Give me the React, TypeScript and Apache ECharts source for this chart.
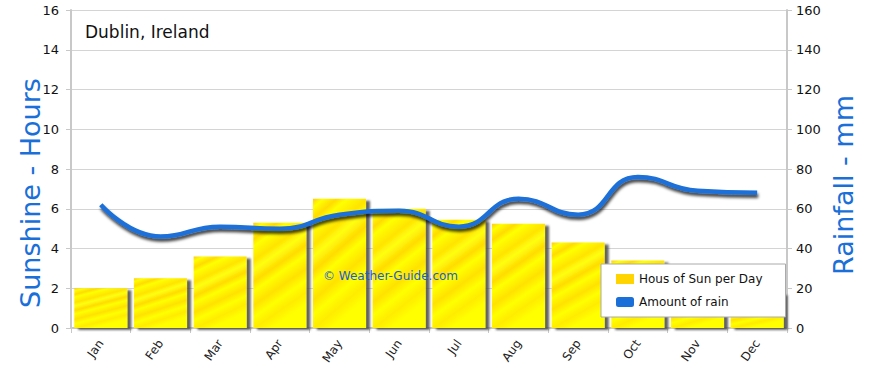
import React, { useEffect, useRef } from "react";
import * as echarts from "echarts";

const months = ["Jan", "Feb", "Mar", "Apr", "May", "Jun", "Jul", "Aug", "Sep", "Oct", "Nov", "Dec"];
const sunHours = [2.0, 2.5, 3.6, 5.3, 6.5, 6.0, 5.45, 5.25, 4.3, 3.4, 2.3, 1.75];
const rainMm = [62, 46, 51, 50, 57, 59, 51, 65, 57, 76, 69, 68];
const sunTicks = { min: 0, max: 16, interval: 2 };
const rainTicks = { min: 0, max: 160, interval: 20 };

const FONT = "'DejaVu Sans', sans-serif";
const BLUE = "#1a6fd8";

export default function App() {
  const ref = useRef<HTMLDivElement>(null);
  useEffect(() => {
    if (!ref.current) return;
    const chart = echarts.init(ref.current, undefined, { renderer: "svg" });
    const barFill = new echarts.graphic.LinearGradient(0, 0, 0.35, 1, [
      { offset: 0, color: "#ffc81a" },
      { offset: 0.06, color: "#ffff00" },
      { offset: 0.14, color: "#ffdc00" },
      { offset: 0.2, color: "#ffff00" },
      { offset: 0.32, color: "#ffe400" },
      { offset: 0.4, color: "#ffff10" },
      { offset: 0.5, color: "#ffdc00" },
      { offset: 0.58, color: "#ffff00" },
      { offset: 0.7, color: "#ffe200" },
      { offset: 0.8, color: "#ffff00" },
      { offset: 0.9, color: "#ffec00" },
      { offset: 1, color: "#ffff00" },
    ]);
    chart.setOption({
      animation: false,
      backgroundColor: "#ffffff",
      textStyle: { fontFamily: FONT },
      grid: { left: 71, right: 83, top: 10, bottom: 40, containLabel: false },
      title: {
        text: "Dublin, Ireland",
        left: 80,
        top: 18,
        textStyle: { fontFamily: FONT, fontSize: 17, fontWeight: "normal", color: "#111" },
      },
      legend: {
        orient: "vertical",
        left: 601,
        top: 264,
        backgroundColor: "#ffffff",
        borderColor: "#aaaaaa",
        borderWidth: 1,
        padding: [9, 23, 9, 15],
        itemGap: 11,
        itemWidth: 18,
        itemHeight: 10,
        textStyle: { fontFamily: FONT, fontSize: 12, color: "#111" },
        data: [
          { name: "Hous of Sun per Day", icon: "rect", itemStyle: { color: "#ffd400" } },
          { name: "Amount of rain", icon: "roundRect" },
        ],
      },
      xAxis: {
        type: "category",
        data: months,
        axisLine: { show: true, lineStyle: { color: "#c8c8c8", width: 2 } },
        axisTick: { show: true, alignWithLabel: false, length: 5, lineStyle: { color: "#c8c8c8" } },
        axisLabel: { rotate: 55, fontSize: 12, color: "#222", margin: 13, fontFamily: FONT },
        splitLine: { show: false },
      },
      yAxis: [
        {
          type: "value",
          min: sunTicks.min,
          max: sunTicks.max,
          interval: sunTicks.interval,
          axisLine: { show: true, lineStyle: { color: "#c8c8c8", width: 2 } },
          axisTick: { show: true, length: 5, lineStyle: { color: "#c8c8c8" } },
          axisLabel: { color: "#111", fontSize: 13, margin: 12, fontFamily: FONT },
          splitLine: { show: true, lineStyle: { color: "#d4d4d4", width: 1 } },
        },
        {
          type: "value",
          min: rainTicks.min,
          max: rainTicks.max,
          interval: rainTicks.interval,
          axisLine: { show: true, lineStyle: { color: "#c8c8c8", width: 2 } },
          axisTick: { show: true, length: 5, lineStyle: { color: "#c8c8c8" } },
          axisLabel: { color: "#111", fontSize: 13, margin: 9, fontFamily: FONT },
          splitLine: { show: false },
        },
      ],
      graphic: [
        {
          type: "text",
          x: 30,
          y: 193,
          rotation: Math.PI / 2,
          z: 5,
          style: {
            text: "Sunshine - Hours",
            fill: BLUE,
            fontSize: 27,
            fontFamily: FONT,
            align: "center",
            verticalAlign: "middle",
          },
        },
        {
          type: "text",
          x: 843,
          y: 185,
          rotation: Math.PI / 2,
          z: 5,
          style: {
            text: "Rainfall - mm",
            fill: BLUE,
            fontSize: 27,
            fontFamily: FONT,
            align: "center",
            verticalAlign: "middle",
          },
        },
        {
          type: "text",
          left: 323,
          top: 270,
          z: 5,
          style: { text: "© Weather-Guide.com", fill: "#1a5fd0", fontSize: 12, fontFamily: FONT },
        },
      ],
      series: [
        {
          name: "Hous of Sun per Day",
          type: "bar",
          yAxisIndex: 0,
          data: sunHours,
          barCategoryGap: "11%",
          itemStyle: {
            color: barFill,
            shadowColor: "rgba(70,70,70,0.85)",
            shadowBlur: 2,
            shadowOffsetX: 4,
            shadowOffsetY: 2,
          },
          z: 2,
        },
        {
          name: "Amount of rain",
          type: "line",
          yAxisIndex: 1,
          data: rainMm,
          smooth: 0.5,
          symbol: "none",
          itemStyle: { color: BLUE },
          lineStyle: {
            color: BLUE,
            width: 4.5,
            shadowColor: "rgba(0,0,0,0.75)",
            shadowBlur: 3,
            shadowOffsetX: 1,
            shadowOffsetY: 3,
          },
          z: 3,
        },
      ],
    });
    return () => chart.dispose();
  }, []);
  return (
    <div
      ref={ref}
      style={{ position: "fixed", left: 0, top: 0, width: 870, height: 368, background: "#fff" }}
    />
  );
}
